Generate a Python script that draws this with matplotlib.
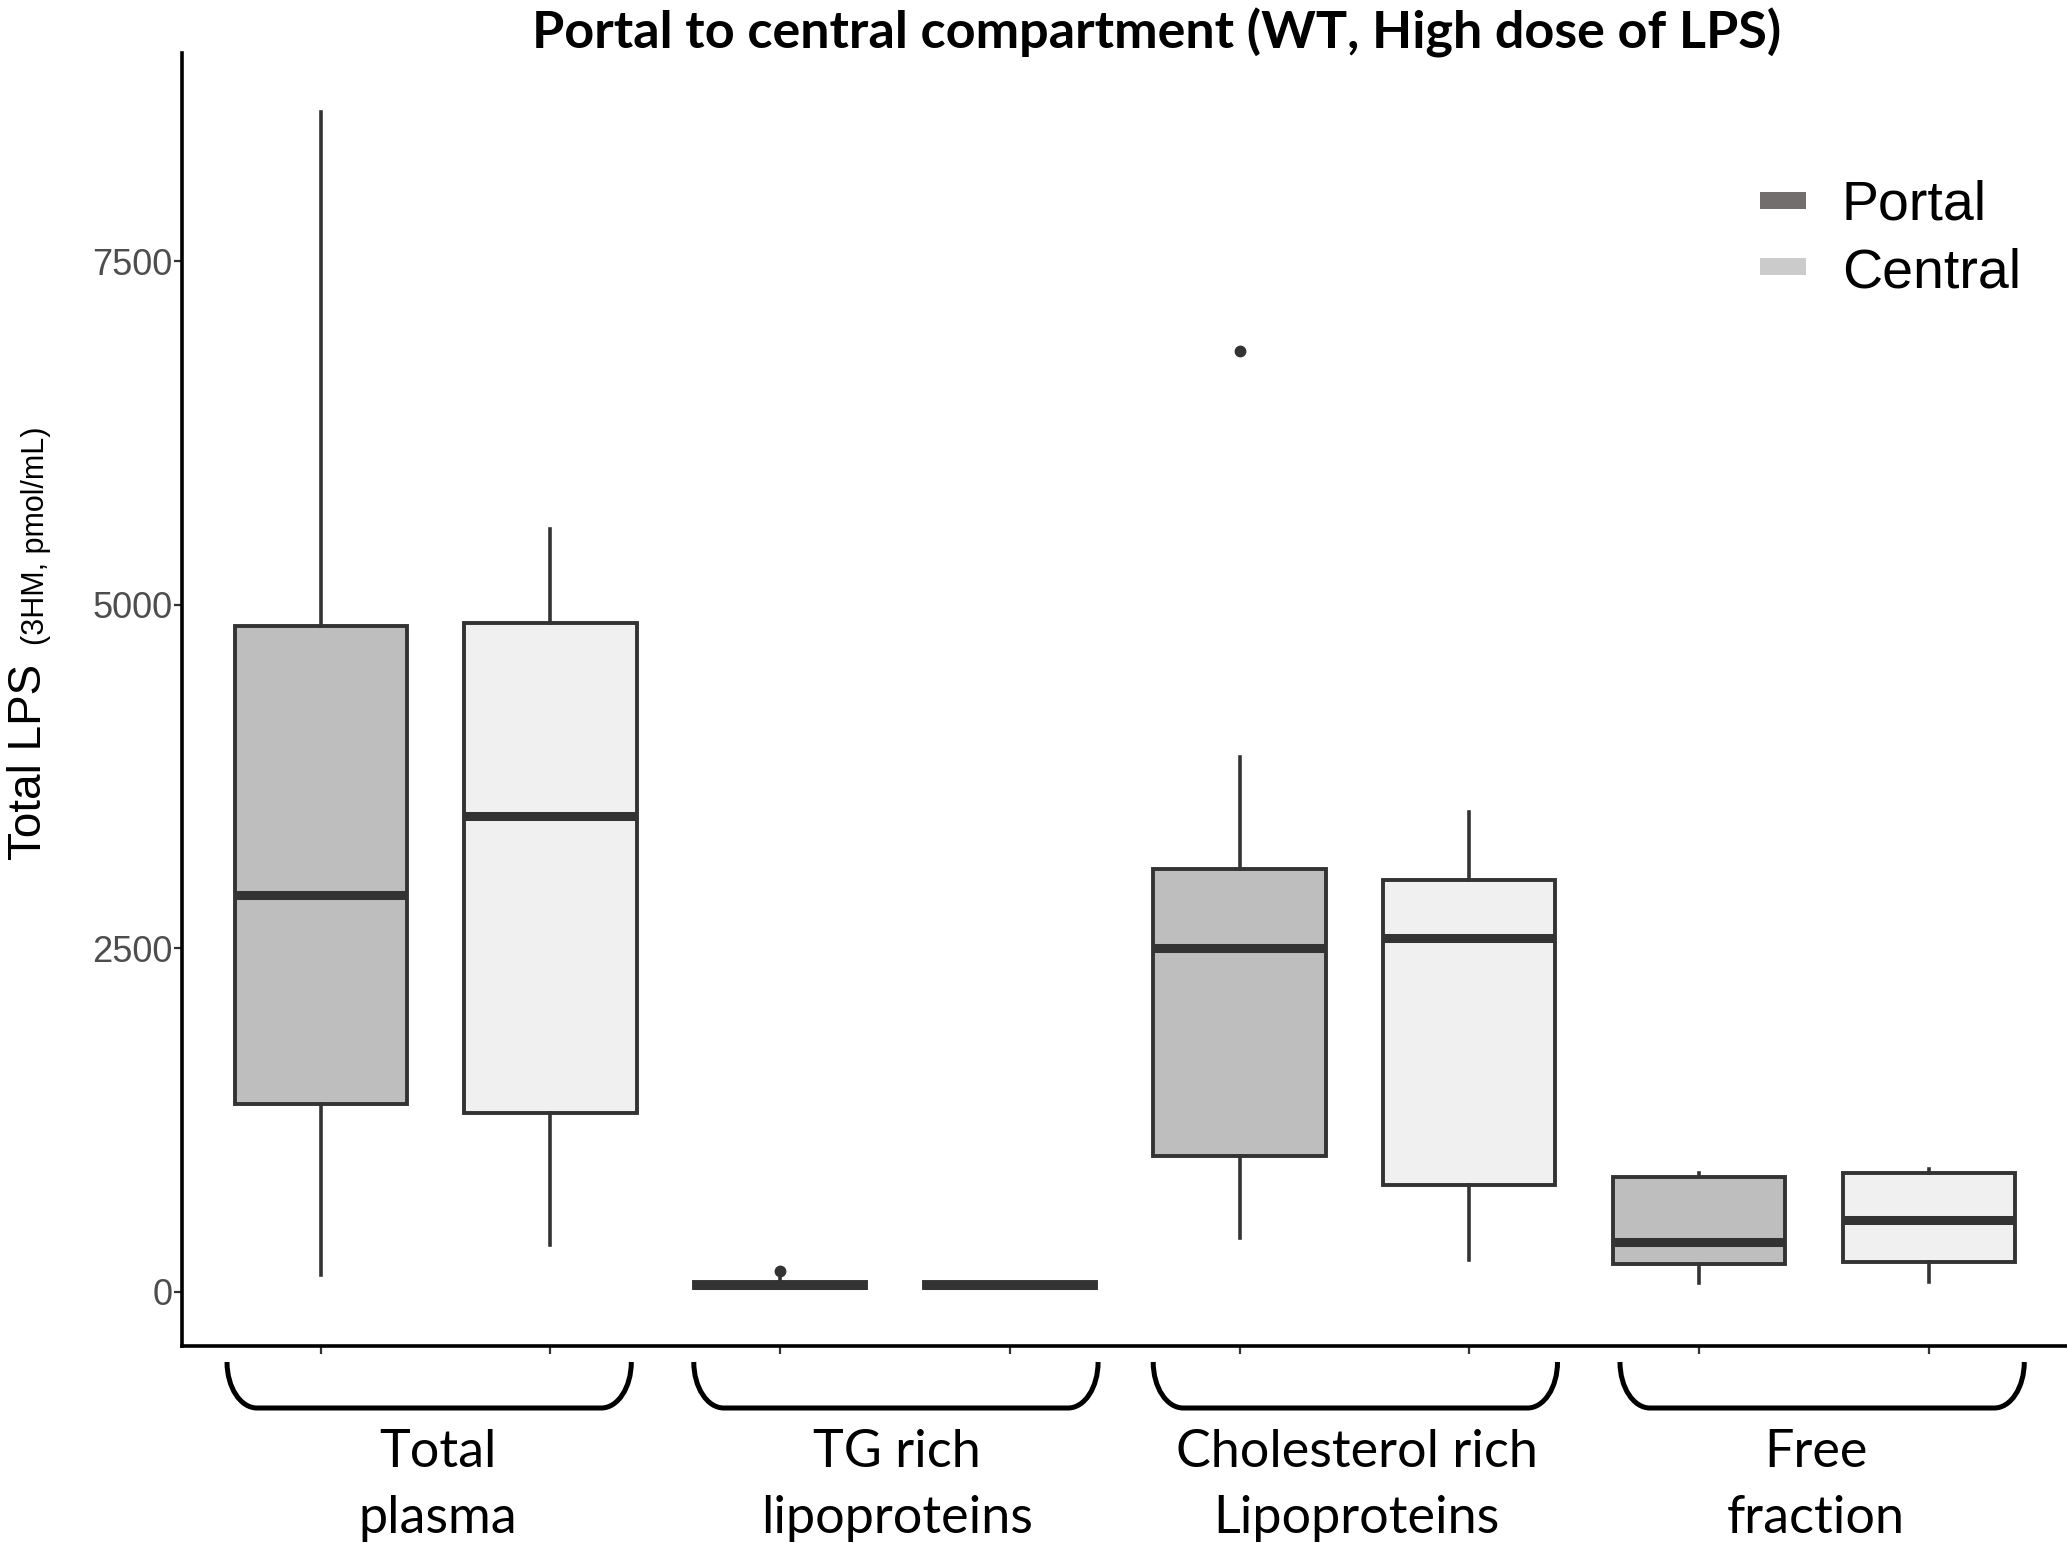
import matplotlib
matplotlib.use("Agg")
import matplotlib.pyplot as plt
import numpy as np
from matplotlib.path import Path
from matplotlib.patches import PathPatch, Rectangle
from matplotlib.transforms import blended_transform_factory

# ---- data ----
groups = ["Total\nplasma", "TG rich\nlipoproteins", "Cholesterol rich\nLipoproteins", "Free\nfraction"]

portal_whislo = [124, 27, 394, 63]
portal_q1 = [1368, 30, 990, 201]
portal_med = [2885, 50, 2500, 366]
portal_q3 = [4846, 75, 3077, 839]
portal_whishi = [8588, 110, 3894, 868]
portal_fliers = [[], [155], [6846], []]

central_whislo = [342, 30, 231, 75]
central_q1 = [1305, 32, 779, 221]
central_med = [3462, 50, 2577, 524]
central_q3 = [4869, 70, 3000, 864]
central_whishi = [5552, 75, 3490, 893]
central_fliers = [[], [], [], []]

yticks = [0, 2500, 5000, 7500]
series_names = ["Portal", "Central"]
box_colors = ["#BEBEBE", "#F0F0F0"]
legend_colors = ["#736E6E", "#CCCBCC"]

W, H = 2067, 1543
fig = plt.figure(figsize=(W / 100, H / 100), dpi=100)
ax = fig.add_axes([182 / W, 1 - 1346 / H, 1 - 182 / W, (1346 - 53) / H])

LABEL_FONT = ["Lato", "DejaVu Sans"]
ARIAL = ["Liberation Sans", "DejaVu Sans"]
EDGE = "#333333"


def stats(whislo, q1, med, q3, whishi, fliers):
    out = []
    for i in range(len(med)):
        out.append(dict(whislo=whislo[i], q1=q1[i], med=med[i], q3=q3[i],
                        whishi=whishi[i], fliers=fliers[i]))
    return out


x = np.arange(1, len(groups) + 1)
series = [
    (stats(portal_whislo, portal_q1, portal_med, portal_q3, portal_whishi, portal_fliers), -0.25),
    (stats(central_whislo, central_q1, central_med, central_q3, central_whishi, central_fliers), 0.25),
]
for (st, off), color in zip(series, box_colors):
    ax.bxp(
        st,
        positions=x + off,
        widths=0.375,
        patch_artist=True,
        showcaps=False,
        boxprops=dict(facecolor=color, edgecolor=EDGE, linewidth=2.8),
        medianprops=dict(color=EDGE, linewidth=6.5, solid_capstyle="butt"),
        whiskerprops=dict(color=EDGE, linewidth=2.6),
        flierprops=dict(marker="o", markerfacecolor=EDGE, markeredgecolor=EDGE, markersize=7.5),
        manage_ticks=False,
    )

ax.set_xlim(0.448, 4.551)
ax.set_ylim(-393, 9015)
ax.set_xticks(np.concatenate([x - 0.25, x + 0.25]))
ax.set_xticklabels([])
ax.set_yticks(yticks)
ax.set_yticklabels([str(t) for t in yticks], fontsize=26, color="#4D4D4D", family=ARIAL)
ax.tick_params(axis="both", length=6, width=1.6, color=EDGE, pad=1)
for s in ["top", "right"]:
    ax.spines[s].set_visible(False)
for s in ["left", "bottom"]:
    ax.spines[s].set_linewidth(2.6)
    ax.spines[s].set_color("black")

# braces under each group (hand drawn in the original, slightly off-centre)
trans = blended_transform_factory(ax.transData, fig.transFigure)
top = 1 - 1362 / H
bot = 1 - 1408 / H
k = 0.5523
r = 30 / 459.4
half = 0.44
brace_shift = [-0.014, 0.002, 0.002, 0.018]
for xi, sh in zip(x, brace_shift):
    x0, x1 = xi + sh - half, xi + sh + half
    h = top - bot
    verts = [
        (x0, top), (x0, top - k * h), (x0 + r - k * r, bot), (x0 + r, bot),
        (x1 - r, bot),
        (x1 - r + k * r, bot), (x1, top - k * h), (x1, top),
    ]
    codes = [Path.MOVETO, Path.CURVE4, Path.CURVE4, Path.CURVE4, Path.LINETO,
             Path.CURVE4, Path.CURVE4, Path.CURVE4]
    ax.add_patch(PathPatch(Path(verts, codes), transform=trans, fill=False,
                           edgecolor="black", linewidth=3.6, clip_on=False))

# group labels, two lines each
for xi, lab in zip(x, groups):
    lines = lab.split("\n")
    for j, line in enumerate(lines):
        ax.text(xi + 0.005, 1 - (1467 + 66 * j) / H, line, transform=trans, ha="center",
                va="baseline", fontsize=37.5, family=LABEL_FONT, color="black")

# title
fig.text(1157 / W, 1 - 48 / H, "Portal to central compartment (WT, High dose of LPS)",
         ha="center", va="baseline", fontsize=37.5, fontweight="bold", family=LABEL_FONT)

# y label: large part plus small unit part
fig.text(41 / W, 1 - 860 / H, "Total LPS", rotation=90, rotation_mode="anchor",
         ha="left", va="baseline", fontsize=33, family=ARIAL)
fig.text(44 / W, 1 - 645 / H, "(3HM, pmol/mL)", rotation=90, rotation_mode="anchor",
         ha="left", va="baseline", fontsize=22, family=ARIAL)

# legend
key_y = [192, 258]
text_base = [220, 287]
for name, color, ky, tb in zip(series_names, legend_colors, key_y, text_base):
    fig.patches.append(Rectangle((1760 / W, 1 - (ky + 17) / H), 46 / W, 17 / H,
                                 transform=fig.transFigure, facecolor=color, edgecolor="none"))
    fig.text(1842 / W, 1 - tb / H, name, ha="left", va="baseline", fontsize=40, family=ARIAL)

fig.savefig("out.png", dpi=100, facecolor="white")
